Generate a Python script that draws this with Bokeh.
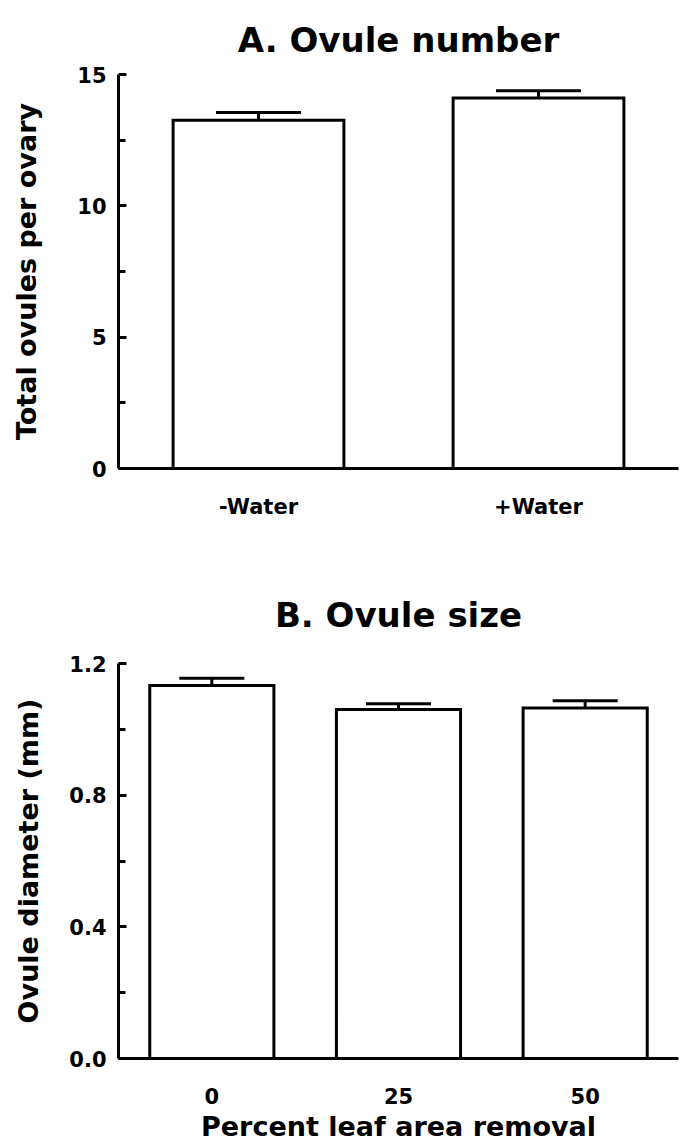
from bokeh.plotting import figure
from bokeh.layouts import column
from bokeh.models import (Range1d, FactorRange, FixedTicker, PrintfTickFormatter,
                          Whisker, TeeHead, ColumnDataSource)
from bokeh.embed import file_html
from bokeh.resources import INLINE

# ---- data ----
treatments_a = ["-Water", "+Water"]
ovule_number = [13.26, 14.11]
ovule_number_se = [0.29, 0.27]

removal_b = ["0", "25", "50"]
ovule_diameter = [1.133, 1.060, 1.065]
ovule_diameter_se = [0.022, 0.018, 0.022]

ticks_a = [0, 5, 10, 15]
minor_ticks_a = [2.5, 7.5, 12.5]
ticks_b = [0.0, 0.4, 0.8, 1.2]
minor_ticks_b = [0.2, 0.6, 1.0]

FONT = "DejaVu Sans"


def panel(cats, means, ses, yrange, ticks, minor, title, ylabel, xlabel,
          height, border_top, border_bottom, border_left, bar_width, cap_px,
          fmt, ylabel_standoff, xtick_standoff, title_standoff):
    p = figure(x_range=FactorRange(factors=cats, range_padding=0),
               y_range=Range1d(*yrange), width=686, height=height,
               output_backend="svg", toolbar_location=None,
               min_border_left=border_left, min_border_right=8,
               min_border_top=border_top, min_border_bottom=border_bottom)
    p.title.text = title
    p.title.align = "center"
    p.title.offset = 5
    p.title.text_font = FONT
    p.title.text_font_style = "bold"
    p.title.text_font_size = "34px"
    p.title.text_color = "black"
    p.title.standoff = title_standoff
    p.outline_line_color = None
    p.grid.visible = False
    p.background_fill_color = "white"

    src = ColumnDataSource(dict(cat=cats, mean=means,
                                upper=[m + s for m, s in zip(means, ses)]))
    p.vbar(x="cat", top="mean", bottom=0, width=bar_width, source=src,
           fill_color="white", line_color="black", line_width=3,
           line_join="miter")
    w = Whisker(base="cat", lower="mean", upper="upper", source=src,
                line_color="black", line_width=3,
                upper_head=TeeHead(size=cap_px, line_width=3, line_color="black"),
                lower_head=None)
    p.add_layout(w)

    ya = p.yaxis[0]
    ya.ticker = FixedTicker(ticks=ticks, minor_ticks=minor)
    if fmt:
        ya.formatter = PrintfTickFormatter(format=fmt)
    ya.axis_line_width = 3
    ya.major_tick_line_width = 3
    ya.minor_tick_line_width = 3
    ya.major_tick_in = 8
    ya.major_tick_out = 0
    ya.minor_tick_in = 7
    ya.minor_tick_out = 0
    ya.major_label_standoff = 12
    ya.major_label_text_font = FONT
    ya.major_label_text_font_style = "bold"
    ya.major_label_text_font_size = "21px"
    ya.major_label_text_color = "black"
    ya.axis_label = ylabel
    ya.axis_label_text_font = FONT
    ya.axis_label_text_font_style = "bold"
    ya.axis_label_text_font_size = "27px"
    ya.axis_label_text_color = "black"
    ya.axis_label_standoff = ylabel_standoff

    xa = p.xaxis[0]
    xa.axis_line_width = 3
    xa.major_tick_line_color = None
    xa.minor_tick_line_color = None
    xa.major_label_standoff = xtick_standoff
    xa.major_label_text_font = FONT
    xa.major_label_text_font_style = "bold"
    xa.major_label_text_font_size = "21px"
    xa.major_label_text_color = "black"
    if xlabel:
        xa.axis_label = xlabel
        xa.axis_label_text_font = FONT
        xa.axis_label_text_font_style = "bold"
        xa.axis_label_text_font_size = "27px"
        xa.axis_label_text_color = "black"
        xa.axis_label_standoff = 4
    return p


pa = panel(treatments_a, ovule_number, ovule_number_se, (0, 15), ticks_a,
           minor_ticks_a, "A. Ovule number", "Total ovules per ovary", None,
           height=560, border_top=74, border_bottom=92, border_left=118,
           bar_width=0.61, cap_px=85, fmt=None, ylabel_standoff=32,
           xtick_standoff=20, title_standoff=30)

pb = panel(removal_b, ovule_diameter, ovule_diameter_se, (0, 1.2), ticks_b,
           minor_ticks_b, "B. Ovule size", "Ovule diameter (mm)",
           "Percent leaf area removal",
           height=584, border_top=103, border_bottom=85, border_left=117,
           bar_width=0.665, cap_px=65, fmt="%.1f", ylabel_standoff=22,
           xtick_standoff=23, title_standoff=58)

layout = column(pa, pb, spacing=0)
open("out.html", "w").write(file_html(layout, INLINE))
